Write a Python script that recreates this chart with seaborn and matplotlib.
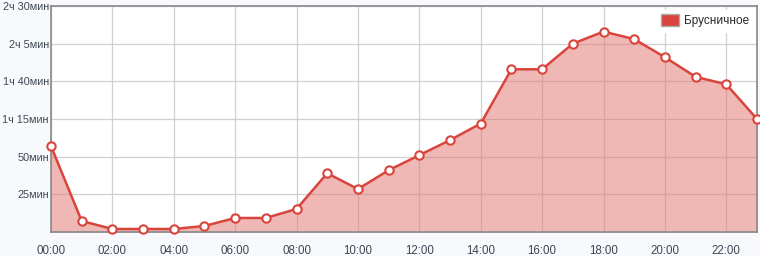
import matplotlib
matplotlib.use("Agg")
import matplotlib.pyplot as plt
import seaborn as sns
import pandas as pd
from matplotlib.patches import Patch

hours = list(range(24))
hour_labels = ["00:00", "02:00", "04:00", "06:00", "08:00", "10:00",
               "12:00", "14:00", "16:00", "18:00", "20:00", "22:00"]
minutes = [57, 7.3, 2, 2, 2, 4, 9.3, 9.3, 15.3, 39, 28.5, 41,
           51, 61, 72, 108, 108, 125, 133, 128, 116, 103, 98, 75]
y_ticks = [25, 50, 75, 100, 125, 150]
y_labels = ["25мин", "50мин", "1ч 15мин", "1ч 40мин", "2ч 5мин", "2ч 30мин"]
series_name = "Брусничное"

df = pd.DataFrame({"hour": hours, "minutes": minutes})

sns.set_style("white")
plt.rcParams["font.family"] = ["Liberation Sans", "DejaVu Sans"]

fig = plt.figure(figsize=(7.6, 2.56), dpi=100, facecolor="#f7f9fc")
ax = fig.add_axes([51 / 760, 24 / 256, 706 / 760, 226 / 256])
ax.set_facecolor("white")

line_color = "#d9453c"
ax.fill_between(df["hour"], df["minutes"], 0, color="#e0736c", alpha=0.5,
                linewidth=0, zorder=2)
sns.lineplot(data=df, x="hour", y="minutes", ax=ax, color=line_color,
             linewidth=1.8, marker="o", markersize=6, markerfacecolor="white",
             markeredgecolor=line_color, markeredgewidth=1.5, zorder=3,
             clip_on=False)

ax.set_xlim(0, 23)
ax.set_ylim(0, 150)
ax.set_xticks(list(range(0, 24, 2)))
ax.set_xticklabels(hour_labels)
ax.set_yticks(y_ticks)
ax.set_yticklabels(y_labels)
ax.set_xlabel("")
ax.set_ylabel("")
ax.grid(True, color="#d0d0d0", linewidth=0.9, zorder=1)
ax.set_axisbelow(True)
ax.tick_params(axis="x", length=0, labelsize=8.3, labelcolor="#3d4654", pad=9)
ax.tick_params(axis="y", length=0, labelsize=7.8, labelcolor="#3d4654", pad=1.5)
for s in ax.spines.values():
    s.set_color("#888888")
    s.set_linewidth(1.2)

ax.legend(handles=[Patch(facecolor=line_color, edgecolor="#aaaaaa",
                         label=series_name)],
          loc="upper right", fontsize=8.5, frameon=True, facecolor="white",
          edgecolor="white", framealpha=1, handlelength=1.5, handleheight=1.2,
          handletextpad=0.4, borderaxespad=0.3, fancybox=False)

fig.savefig("out.png", dpi=100, facecolor=fig.get_facecolor())
